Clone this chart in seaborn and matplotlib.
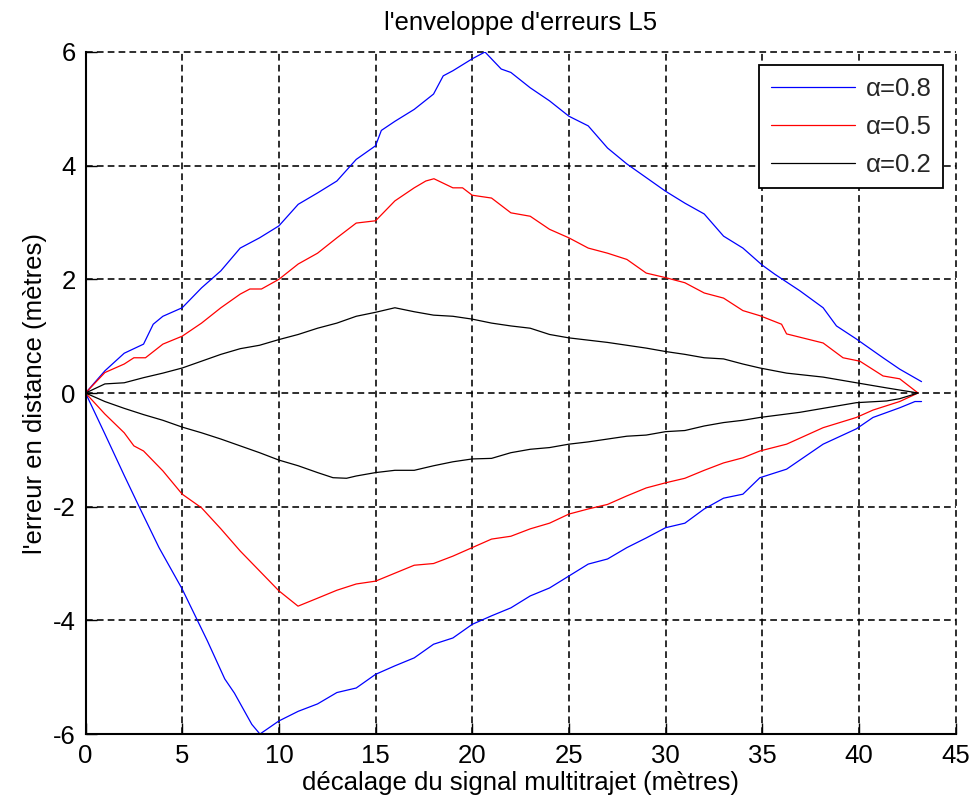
import matplotlib
matplotlib.use("Agg")
import matplotlib.pyplot as plt
import numpy as np
import pandas as pd
import seaborn as sns

# Error envelope (upper / lower branch) for three multipath amplitude ratios
x_08_haut = [0, 1, 2, 3, 3.5, 4, 5, 6, 6.5, 7, 8, 9, 10, 11, 12, 13, 14, 15, 15.3, 16,
             17, 18, 18.5, 19, 20, 20.66, 21.5, 22, 23, 24, 25, 26, 27, 28, 29, 30, 31,
             32, 33, 34, 35, 35.65, 36.94, 38.15, 38.84, 39.87, 41.25, 42.11, 43.24]
y_08_haut = [0, 0.39, 0.70, 0.86, 1.21, 1.35, 1.50, 1.85, 2.00, 2.15, 2.55, 2.73, 2.94,
             3.32, 3.52, 3.73, 4.11, 4.35, 4.62, 4.78, 4.99, 5.26, 5.58, 5.67, 5.88, 6.00,
             5.70, 5.64, 5.37, 5.14, 4.87, 4.70, 4.31, 4.03, 3.79, 3.55, 3.34, 3.15, 2.76,
             2.55, 2.25, 2.09, 1.80, 1.50, 1.18, 0.95, 0.62, 0.42, 0.20]
x_08_bas = [0, 1, 2, 2.8, 3.8, 5, 6.3, 7.2, 7.7, 8.6, 9.02, 10, 11, 12, 13, 14, 15, 16,
            17, 18, 19, 20, 21, 22, 23, 24, 25, 26, 27, 28, 29, 30, 31, 32, 33, 34, 34.88,
            36.26, 38.15, 39.87, 40.73, 42.11, 42.9, 43.24]
y_08_bas = [0, -0.72, -1.45, -2.02, -2.72, -3.45, -4.36, -5.03, -5.28, -5.83, -6.00,
            -5.77, -5.60, -5.47, -5.27, -5.19, -4.95, -4.80, -4.66, -4.42, -4.31, -4.07,
            -3.92, -3.78, -3.57, -3.43, -3.22, -3.01, -2.92, -2.72, -2.55, -2.37, -2.29,
            -2.04, -1.85, -1.78, -1.49, -1.34, -0.90, -0.63, -0.43, -0.26, -0.15, -0.15]

x_05_haut = [0, 1, 2, 2.5, 3.1, 4, 5, 6, 7, 8, 8.5, 9.1, 10, 11, 12, 13, 14, 15, 16, 17,
             17.6, 18.02, 19, 19.5, 20, 21, 22, 23, 24, 25, 26, 27, 28, 29, 30, 31, 32,
             33, 34, 34.88, 36, 36.26, 38.15, 39.18, 40.05, 41.25, 42.11, 43.06]
y_05_haut = [0, 0.36, 0.51, 0.62, 0.62, 0.86, 1.00, 1.23, 1.50, 1.74, 1.83, 1.83, 2.00,
             2.27, 2.46, 2.73, 2.99, 3.03, 3.38, 3.61, 3.73, 3.77, 3.61, 3.61, 3.48, 3.43,
             3.17, 3.11, 2.88, 2.73, 2.55, 2.46, 2.35, 2.11, 2.03, 1.94, 1.76, 1.67, 1.45,
             1.36, 1.21, 1.04, 0.88, 0.62, 0.56, 0.30, 0.25, 0.0]
x_05_bas = [0, 1, 2, 2.5, 3, 4, 5, 6, 7, 8, 9, 10, 10.99, 12, 13, 14, 15, 16, 17, 18, 19,
            20, 21, 22, 23, 24, 25, 26, 27, 28, 29, 30, 31, 32, 33, 34, 34.88, 36.26,
            38.15, 39.87, 40.73, 42.11, 43.06]
y_05_bas = [0, -0.37, -0.70, -0.93, -1.02, -1.37, -1.78, -2.02, -2.39, -2.78, -3.13,
            -3.48, -3.75, -3.61, -3.47, -3.36, -3.31, -3.17, -3.03, -3.00, -2.87, -2.72,
            -2.57, -2.52, -2.39, -2.29, -2.13, -2.04, -1.96, -1.81, -1.67, -1.58, -1.50,
            -1.36, -1.23, -1.14, -1.02, -0.90, -0.61, -0.43, -0.30, -0.15, 0.0]

x_02_haut = [0, 1, 2, 3, 4, 5, 6, 7, 8, 9, 10, 11, 12, 13, 14, 15, 16.0, 17, 18, 19, 20,
             21, 22, 23, 24, 25, 26, 27, 28, 29, 30, 31, 32, 33, 34, 34.88, 36.26, 38.15,
             39.87, 41.43, 43.06]
y_02_haut = [0, 0.16, 0.18, 0.27, 0.35, 0.44, 0.56, 0.68, 0.78, 0.84, 0.94, 1.03, 1.14,
             1.23, 1.35, 1.42, 1.50, 1.43, 1.37, 1.35, 1.30, 1.23, 1.18, 1.14, 1.03, 0.97,
             0.93, 0.89, 0.84, 0.79, 0.73, 0.68, 0.62, 0.60, 0.51, 0.44, 0.35, 0.28, 0.18,
             0.09, 0.0]
x_02_bas = [0, 1, 2, 3, 4, 5, 6, 7, 8, 9, 10, 11, 12, 12.8, 13.5, 14, 15, 16, 17, 18, 19,
            20, 21, 22, 23, 24, 25, 26, 27, 28, 29, 30, 31, 32, 33, 34, 34.88, 36.94,
            39.87, 41.43, 42.11, 43.06]
y_02_bas = [0, -0.15, -0.27, -0.38, -0.48, -0.60, -0.70, -0.81, -0.93, -1.05, -1.18,
            -1.28, -1.40, -1.49, -1.50, -1.46, -1.40, -1.36, -1.36, -1.28, -1.21, -1.16,
            -1.15, -1.05, -0.99, -0.96, -0.90, -0.86, -0.81, -0.76, -0.74, -0.68, -0.66,
            -0.58, -0.52, -0.48, -0.43, -0.34, -0.17, -0.14, -0.10, 0.0]

alpha_labels = ["\u03b1=0.8", "\u03b1=0.5", "\u03b1=0.2"]
alpha_colors = ["#0000ff", "#ff0000", "#000000"]
x_ticks = [0, 5, 10, 15, 20, 25, 30, 35, 40, 45]
y_ticks = [-6, -4, -2, 0, 2, 4, 6]

branches = [
    (alpha_labels[0], "haut", x_08_haut, y_08_haut),
    (alpha_labels[0], "bas", x_08_bas, y_08_bas),
    (alpha_labels[1], "haut", x_05_haut, y_05_haut),
    (alpha_labels[1], "bas", x_05_bas, y_05_bas),
    (alpha_labels[2], "haut", x_02_haut, y_02_haut),
    (alpha_labels[2], "bas", x_02_bas, y_02_bas),
]
df = pd.concat(
    [pd.DataFrame({"x": xs, "y": ys, "alpha": lab, "branche": br})
     for lab, br, xs, ys in branches],
    ignore_index=True,
)

sns.set_theme(style="white")
plt.rcParams["font.family"] = ["Liberation Sans", "DejaVu Sans"]
plt.rcParams["axes.unicode_minus"] = False

fig = plt.figure(figsize=(9.71, 8.11), dpi=100)
ax = fig.add_axes([0.0881, 0.0949, 0.896, 0.841])

sns.lineplot(
    data=df, x="x", y="y", hue="alpha", units="branche", estimator=None, sort=False,
    hue_order=alpha_labels, palette=dict(zip(alpha_labels, alpha_colors)),
    linewidth=0.9, ax=ax, legend=True,
)

ax.set_xlim(0, 45)
ax.set_ylim(-6, 6)
ax.set_xticks(x_ticks)
ax.set_yticks(y_ticks)
fs = 18.5
ax.tick_params(axis="both", which="major", direction="in", length=8, width=1.0,
               color="black", labelsize=fs, labelcolor="black", pad=7,
               left=True, bottom=True, top=False, right=False)

# MATLAB-like dashed grid, drawn all the way to the axes edges
ax.grid(True, color="black", linestyle=(0, (4.2, 2.6)), linewidth=1.15)
for gl in ax.get_xgridlines() + ax.get_ygridlines():
    gl.set_clip_on(False)
ax.set_axisbelow(True)

for side in ["top", "right"]:
    ax.spines[side].set_visible(False)
for side in ["left", "bottom"]:
    ax.spines[side].set_color("black")
    ax.spines[side].set_linewidth(1.5)

ax.set_title("l'enveloppe d'erreurs L5", fontsize=fs, color="black", pad=16)
ax.set_xlabel("décalage du signal multitrajet (mètres)", fontsize=fs, color="black",
              labelpad=2)
ax.set_ylabel("l'erreur en distance (mètres)", fontsize=fs, color="black", labelpad=4)

handles, labels = ax.get_legend_handles_labels()
leg = ax.legend(handles, labels, loc="upper right", bbox_to_anchor=(0.9856, 0.981),
                borderaxespad=0, fontsize=fs, frameon=True, fancybox=False,
                edgecolor="black", framealpha=1, handlelength=3.3, handletextpad=0.4,
                labelspacing=0.55, borderpad=0.45)
leg.get_frame().set_linewidth(1.3)

fig.savefig("out.png", dpi=100, facecolor="white")
